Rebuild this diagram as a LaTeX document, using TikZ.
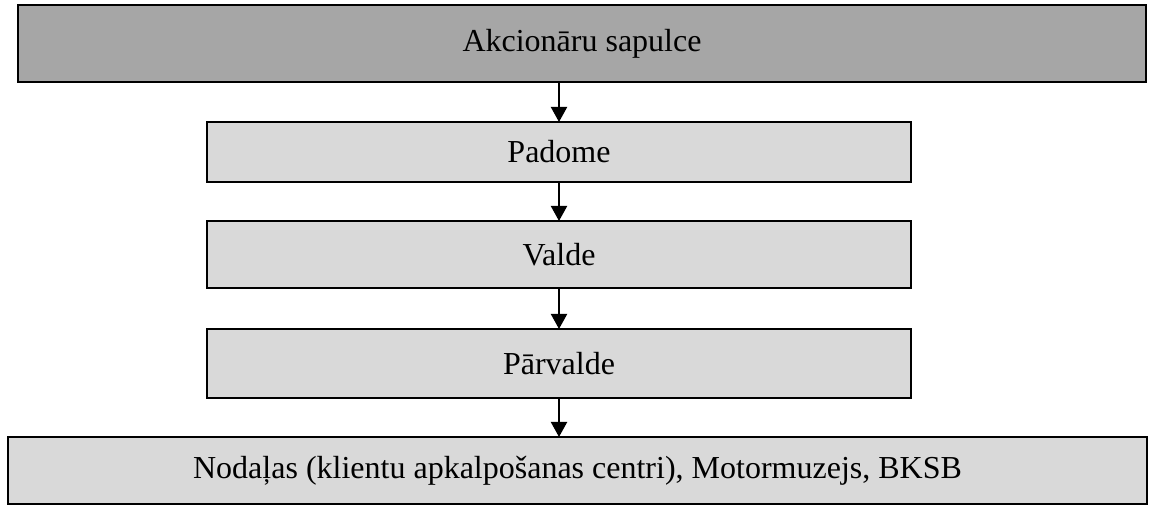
\documentclass[tikz,border=0pt]{standalone}
\usepackage{fontspec}
\setmainfont{Liberation Serif}
\usetikzlibrary{arrows.meta}
\definecolor{topgray}{HTML}{A6A6A6}
\definecolor{boxgray}{HTML}{D9D9D9}
\begin{document}
\begin{tikzpicture}[x=0.5pt,y=-0.5pt,inner sep=0pt,outer sep=0pt,line width=1.2pt,
orgbox/.style={draw,rectangle,fill=boxgray,font=\fontsize{16}{19}\selectfont,line width=1.2pt},
downarrow/.style={-{Triangle[length=7.5pt,width=8pt]},line width=1pt}]
\useasboundingbox (0,0) rectangle (1149,506);
\draw (582,43.5) node[orgbox,fill=topgray,minimum width=564pt,minimum height=38.5pt] (sapulce) {Akcionāru sapulce};
\draw (559,152) node[orgbox,minimum width=352pt,minimum height=30pt] (padome) {Padome};
\draw (559,254.5) node[orgbox,minimum width=352pt,minimum height=33.5pt] (valde) {Valde};
\draw (559,363.5) node[orgbox,minimum width=352pt,minimum height=34.5pt] (parvalde) {Pārvalde};
\draw (577.5,470.5) node[orgbox,minimum width=569.5pt,minimum height=33.5pt] (nodalas) {Nodaļas (klientu apkalpošanas centri), Motormuzejs, BKSB};
\draw[downarrow] (sapulce.south -| padome.north) -- (padome.north);
\draw[downarrow] (padome) -- (valde);
\draw[downarrow] (valde) -- (parvalde);
\draw[downarrow] (parvalde) -- (parvalde |- nodalas.north);
\end{tikzpicture}
\end{document}
